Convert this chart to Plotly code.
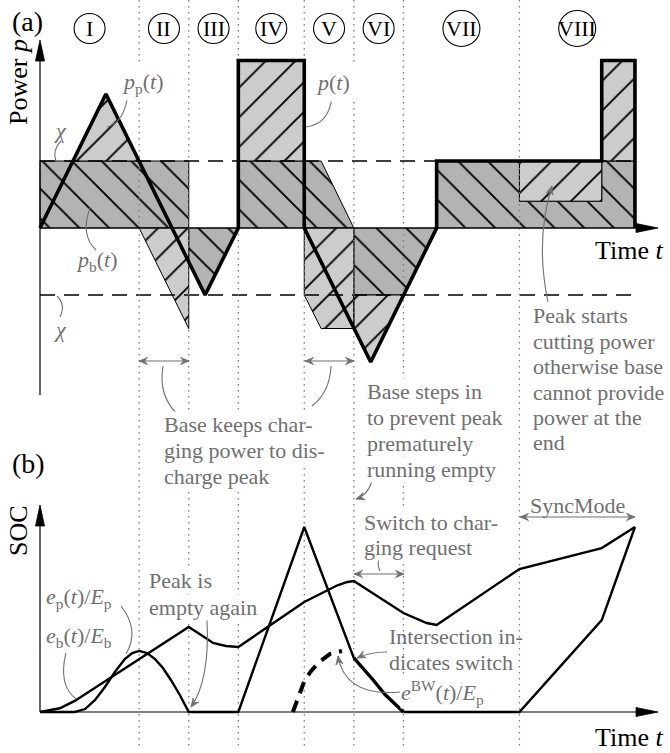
import math
import plotly.graph_objects as go

# ------------------------------------------------------------------
# Values
# ------------------------------------------------------------------
section_edges = [0, 2, 3, 4, 5.33, 6.33, 7.33, 9.67, 12]
section_names = ["I", "II", "III", "IV", "V", "VI", "VII", "VIII"]
chi = 1.0

# requested power p(t), in units of chi
load_t = [0, 1.33, 3.33, 4, 4, 5.33, 5.33, 6.67, 8, 8, 11.33, 11.33, 12, 12]
load_p = [0, 2, -1, 0, 2.5, 2.5, 0, -2, 0, 1, 1, 2.5, 2.5, 0]

# share delivered by the base storage p_b(t), one polygon per stretch
base_t = [[0, 0, 3, 3], [3, 3, 3.33, 4], [4, 4, 5.67, 6.33],
          [6.33, 6.33, 7.33, 8], [8, 8, 9.67, 9.67, 11.33, 11.33, 12, 12]]
base_p = [[0, 1, 1, 0], [0, -0.5, -1, 0], [0, 1, 1, 0],
          [0, -1, -1, 0], [0, 1, 1, 0.4, 0.4, 1, 1, 0]]

# share delivered by the peak storage p_p(t)
peak_t = [[0.67, 1.33, 2], [2, 3, 3], [4, 4, 5.33, 5.33],
          [5.33, 5.33, 5.67, 6.33, 6.33], [6.33, 7.33, 6.67, 6.33],
          [9.67, 9.67, 11.33, 11.33], [11.33, 11.33, 12, 12]]
peak_p = [[1, 2, 1], [0, 0, -1.5], [1, 2.5, 2.5, 1],
          [0, -1, -1.5, -1.5, 0], [-1, -1, -2, -1.5],
          [0.4, 1, 1, 0.4], [1, 2.5, 2.5, 1]]

# state of charge of the base storage e_b/E_b
soc_b_t = [0, 0.4, 0.7, 3.0, 3.25, 3.49, 3.75, 4.0, 5.33, 5.7, 6.0, 6.2, 6.33,
           7.33, 7.6, 7.8, 8.0, 9.67, 11.33, 12.0]
soc_b = [0, 0.02, 0.06, 0.46, 0.416, 0.373, 0.357, 0.351, 0.595, 0.645, 0.685, 0.703, 0.708,
         0.535, 0.503, 0.481, 0.47, 0.773, 0.886, 1.0]

# state of charge of the peak storage e_p/E_p
soc_p_t = [0, 0.7, 0.91, 1.11, 1.31, 1.51, 1.71, 1.86, 2.0, 2.16, 2.32, 2.48, 2.64, 2.82, 3.0,
           4.0, 5.33, 6.33, None, 7.33, 9.67, 11.33, 12.0]
soc_p = [0, 0, 0.016, 0.065, 0.135, 0.216, 0.286, 0.319, 0.33, 0.319, 0.286, 0.238, 0.173, 0.092, 0,
         0, 1.0, 0.292, None, 0, 0, 0.497, 1.0]

# backward-computed energy bound e^BW/E_p and the stretch the peak follows it
soc_bw_t = [5.1, 5.22, 5.34, 5.47, 5.61, 5.85, 6.09]
soc_bw = [0, 0.09, 0.173, 0.222, 0.265, 0.314, 0.33]
soc_follow_t = [6.33, 6.5, 6.72, 6.95, 7.15, 7.33]
soc_follow = [0.292, 0.243, 0.173, 0.097, 0.043, 0]

# ------------------------------------------------------------------
# Page geometry (pixels) and conversions into the axis units
# ------------------------------------------------------------------
W, H = 670, 753
X0, SX = 40, 49.58        # t = 0 position, pixels per time unit
YT, SP = 228, 67          # p = 0 position (upper panel), pixels per chi
YB, SS = 712, 185         # SOC = 0 position (lower panel), pixels per SOC unit


def tx(px):
    return (px - X0) / SX


def yp(py):
    return (YT - py) / SP


def ys(py):
    return (YB - py) / SS


CONV = {"y": yp, "y2": ys}
GRAY = "#707070"
DOT_GRAY = "#7c7c7c"
DARK = "#b3b3b3"
LIGHT = "#cccccc"
FONT = "Liberation Serif, DejaVu Serif, serif"


def closed_polys(ts, vs):
    xs, ys_ = [], []
    for t, v in zip(ts, vs):
        xs += list(t) + [t[0], None]
        ys_ += list(v) + [v[0], None]
    return xs, ys_


fig = go.Figure()

# ---- upper panel: power split ----
bx, by = closed_polys(base_t, base_p)
fig.add_trace(go.Scatter(
    x=bx, y=by, mode="lines", fill="toself", fillcolor=DARK,
    fillpattern=dict(shape="\\", fgcolor="black", fgopacity=1, bgcolor=DARK,
                     size=21, solidity=0.09),
    line=dict(color="black", width=1), hoverinfo="skip", showlegend=False))

px_, py_ = closed_polys(peak_t, peak_p)
fig.add_trace(go.Scatter(
    x=px_, y=py_, mode="lines", fill="toself", fillcolor=LIGHT,
    fillpattern=dict(shape="/", fgcolor="black", fgopacity=1, bgcolor=LIGHT,
                     size=21, solidity=0.09),
    line=dict(color="black", width=1), hoverinfo="skip", showlegend=False))

# threshold lines +chi / -chi
fig.add_trace(go.Scatter(
    x=[section_edges[0], section_edges[-1], None, section_edges[0], section_edges[-1]],
    y=[chi, chi, None, -chi, -chi], mode="lines",
    line=dict(color="black", width=1.3, dash="15px,9px"),
    hoverinfo="skip", showlegend=False))

# interval boundaries running through both panels
vx, vy = [], []
for e in section_edges[1:-1]:
    vx += [e, e, None]
    vy += [yp(0), yp(747), None]
fig.add_trace(go.Scatter(
    x=vx, y=vy, mode="lines", line=dict(color=DOT_GRAY, width=1.3, dash="1.5px,4.5px"),
    hoverinfo="skip", showlegend=False))

# requested power
fig.add_trace(go.Scatter(
    x=load_t, y=load_p, mode="lines", line=dict(color="black", width=3.6),
    hoverinfo="skip", showlegend=False))

# ---- lower panel: states of charge ----
fig.add_trace(go.Scatter(
    x=soc_b_t, y=soc_b, yaxis="y2", mode="lines", line=dict(color="black", width=2.4),
    hoverinfo="skip", showlegend=False))
fig.add_trace(go.Scatter(
    x=soc_p_t, y=soc_p, yaxis="y2", mode="lines", line=dict(color="black", width=2.4),
    hoverinfo="skip", showlegend=False))
fig.add_trace(go.Scatter(
    x=soc_follow_t, y=soc_follow, yaxis="y2", mode="lines", line=dict(color="black", width=3.4),
    hoverinfo="skip", showlegend=False))
fig.add_trace(go.Scatter(
    x=soc_bw_t, y=soc_bw, yaxis="y2", mode="lines",
    line=dict(color="black", width=4, dash="12px,8px"),
    hoverinfo="skip", showlegend=False))

shapes = []
annotations = []


# ---- axes with arrow tips ----
def axis_line(x0, y0, x1, y1, yref):
    shapes.append(dict(type="line", xref="x", yref=yref, x0=x0, y0=y0, x1=x1, y1=y1,
                       line=dict(color="black", width=1.2)))


def head(x, y, yref, path, color="black"):
    shapes.append(dict(type="path", xref="x", yref=yref, xsizemode="pixel", ysizemode="pixel",
                       xanchor=x, yanchor=y, path=path, fillcolor=color,
                       line=dict(color=color, width=0.8)))


UP = "M -4.5,-21 L 0,0 L 4.5,-21 Z"
RIGHT = "M -22,-4.5 L 0,0 L -22,4.5 Z"

axis_line(0, yp(395), 0, yp(55), "y")
head(0, yp(40), "y", UP)
axis_line(0, 0, tx(640), 0, "y")
head(tx(658), 0, "y", RIGHT)

axis_line(0, 0, 0, ys(520), "y2")
head(0, ys(505), "y2", UP)
axis_line(0, 0, tx(640), 0, "y2")
head(tx(658), 0, "y2", RIGHT)

# ---- interval numbers in circles ----
for i, name in enumerate(section_names):
    mid = 0.5 * (section_edges[i] + section_edges[i + 1])
    rx, ry = (18.5, 18) if name in ("VII", "VIII") else (15.5, 15)
    cy = yp(28.5)
    shapes.append(dict(type="circle", xref="x", yref="y", xsizemode="pixel", ysizemode="pixel",
                       xanchor=mid, yanchor=cy, x0=-rx, x1=rx, y0=-ry, y1=ry,
                       line=dict(color="black", width=1.1)))
    annotations.append(dict(x=mid, y=cy, xref="x", yref="y", text=name, showarrow=False,
                            font=dict(family=FONT, size=22, color="black")))


# ---- connectors and small gray arrow tips ----
def gray_tip(pt, frm, yref):
    """Stealth-like tip at page point pt, pointing away from page point frm."""
    dx, dy = pt[0] - frm[0], pt[1] - frm[1]
    n = math.hypot(dx, dy)
    ux, uy = dx / n, -dy / n          # pixel-mode shapes count y upward
    nx, ny = -uy, ux
    L, w = 8.5, 3.6
    pts = [(0, 0), (-L * ux + w * nx, -L * uy + w * ny), (-0.65 * L * ux, -0.65 * L * uy),
           (-L * ux - w * nx, -L * uy - w * ny)]
    path = "M " + " L ".join(f"{a:.2f},{b:.2f}" for a, b in pts) + " Z"
    head(tx(pt[0]), CONV[yref](pt[1]), yref, path, color=GRAY)


def connector(p0, c, p1, yref, arrow=False):
    cv = CONV[yref]
    path = (f"M {tx(p0[0]):.4f},{cv(p0[1]):.4f} Q {tx(c[0]):.4f},{cv(c[1]):.4f} "
            f"{tx(p1[0]):.4f},{cv(p1[1]):.4f}")
    shapes.append(dict(type="path", xref="x", yref=yref, path=path,
                       line=dict(color=GRAY, width=1.1)))
    if arrow:
        gray_tip(p1, c, yref)


def double_arrow(x0, x1, yy, yref):
    cv = CONV[yref]
    shapes.append(dict(type="line", xref="x", yref=yref, x0=tx(x0), x1=tx(x1),
                       y0=cv(yy), y1=cv(yy), line=dict(color=GRAY, width=1.2)))
    gray_tip((x1, yy), (x0, yy), yref)
    gray_tip((x0, yy), (x1, yy), yref)


connector((61, 141), (52, 150), (56, 161), "y")
connector((57, 296), (66, 305), (60, 317), "y")
connector((128, 93), (125, 122), (107, 127), "y")
connector((332, 95), (330, 124), (306, 127), "y")
connector((90, 208), (80, 235), (96, 250), "y")
connector((548, 302), (535, 240), (552, 186), "y", arrow=True)
connector((163, 366), (158, 395), (177, 414), "y")
connector((331, 366), (330, 392), (312, 406), "y")
double_arrow(139, 189, 361, "y")
double_arrow(305, 354, 361, "y")

connector((121, 606), (140, 630), (126, 654), "y2")
connector((66, 653), (58, 685), (76, 699), "y2")
connector((207, 620), (210, 680), (191, 707), "y2", arrow=True)
connector((372, 481), (368, 495), (356, 499), "y2", arrow=True)
connector((380, 571), (377, 565), (379, 558), "y2")
connector((387, 652), (370, 652), (357, 658), "y2", arrow=True)
connector((400, 692), (345, 697), (338, 656), "y2", arrow=True)
double_arrow(354, 404, 574, "y2")
double_arrow(520, 635, 517, "y2")


# ---- text ----
def note(px, py, text, yref, size=22, color=GRAY, xanchor="center", bg=None, pad=0, angle=0):
    cv = CONV[yref]
    d = dict(x=tx(px), y=cv(py), xref="x", yref=yref, text=text, showarrow=False,
             xanchor=xanchor, yanchor="middle", textangle=angle, borderpad=pad,
             font=dict(family=FONT, size=size, color=color))
    if bg:
        d["bgcolor"] = bg
    annotations.append(d)


def block(px, pys, lines, yref, bg="white"):
    for py, line in zip(pys, lines):
        note(px, py, line, yref, xanchor="left", bg=bg)


note(27, 21, "(a)", "y", size=28, color="black")
note(18, 82, "Power <i>p</i>", "y", size=26, color="black", angle=-90)
note(629, 250, "Time <i>t</i>", "y", size=26, color="black")
note(142, 83, "<i>p</i><sub>p</sub>(<i>t</i>)", "y", bg="white", pad=3)
note(333, 82, "<i>p</i>(<i>t</i>)", "y", bg="white", pad=6)
note(96, 261, "<i>p</i><sub>b</sub>(<i>t</i>)", "y")
note(60, 130, "<i>χ</i>", "y")
note(60, 329, "<i>χ</i>", "y")

block(163, [424, 450, 476], ["Base keeps char-", "ging power to dis-", "charge peak"], "y")
block(366, [391, 417, 443, 469],
      ["Base steps in", "to prevent peak", "prematurely", "running empty"], "y")
block(532, [315, 341, 366, 392, 417, 442],
      ["Peak starts", "cutting power", "otherwise base", "cannot provide", "power at the", "end"],
      "y", bg=None)

note(28, 463, "(b)", "y2", size=28, color="black")
note(18, 531, "SOC", "y2", size=26, color="black", angle=-90)
note(629, 737, "Time <i>t</i>", "y2", size=26, color="black")
note(45, 598, "<i>e</i><sub>p</sub>(<i>t</i>)/<i>E</i><sub>p</sub>", "y2", xanchor="left")
note(45, 637, "<i>e</i><sub>b</sub>(<i>t</i>)/<i>E</i><sub>b</sub>", "y2", xanchor="left")
block(148, [580, 607], ["Peak is", "empty again"], "y2")
block(363, [522, 547], ["Switch to char-", "ging request"], "y2")
block(388, [636, 662], ["Intersection in-", "dicates switch"], "y2", bg=None)
note(400, 692, "<i>e</i><sup>BW</sup>(<i>t</i>)/<i>E</i><sub>p</sub>", "y2", xanchor="left",
     bg="white")
note(577, 505, "SyncMode", "y2")

fig.update_layout(
    width=W, height=H, margin=dict(l=0, r=0, t=0, b=0),
    paper_bgcolor="white", plot_bgcolor="white",
    font=dict(family=FONT),
    xaxis=dict(range=[tx(0), tx(W)], visible=False, fixedrange=True),
    yaxis=dict(range=[yp(H), yp(0)], visible=False, fixedrange=True),
    yaxis2=dict(range=[ys(H), ys(0)], visible=False, overlaying="y", fixedrange=True),
    shapes=shapes, annotations=annotations, showlegend=False,
)

fig.write_html("out.html")
